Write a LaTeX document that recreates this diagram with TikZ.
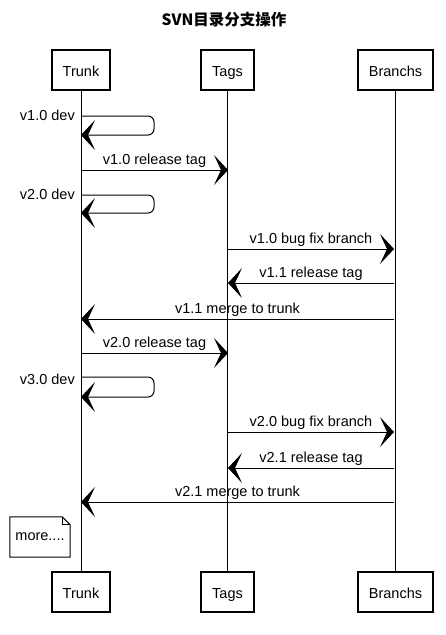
\documentclass[tikz,border=0pt]{standalone}
\usepackage{fontspec}
\setmainfont{Liberation Sans}
\newfontfamily\cjkfont{Noto Sans CJK SC}
\usetikzlibrary{arrows.meta}
\begin{document}
\begin{tikzpicture}[x=1pt,y=-1pt,
  actor/.style={draw, line width=1.1pt, minimum height=40pt, inner sep=0pt, text height=12.4pt, text depth=0pt, font=\fontsize{14.5}{17}\selectfont},
  life/.style={draw, line width=0.7pt},
  msg/.style={draw, line width=1pt, -{Stealth[length=14pt,width=30pt,inset=7pt]}},
  lbl/.style={font=\fontsize{14.5}{17}\selectfont, inner sep=1pt},
  notebox/.style={minimum width=60pt, minimum height=40pt, inner sep=0pt, font=\fontsize{14.5}{17}\selectfont}
]
\useasboundingbox (0,0) rectangle (446,635);
\node[font=\cjkfont\bfseries\fontsize{15.5}{18}\selectfont] (title) at (224,20) {SVN目录分支操作};

% actors
\node[actor, minimum width=58pt] (trunkT) at (81,70) {Trunk};
\node[actor, minimum width=53pt] (tagsT) at (227.5,70) {Tags};
\node[actor, minimum width=75pt] (branchT) at (395.5,70) {Branchs};
\node[actor, minimum width=58pt] (trunkB) at (81,592) {Trunk};
\node[actor, minimum width=53pt] (tagsB) at (227.5,592) {Tags};
\node[actor, minimum width=75pt] (branchB) at (395.5,592) {Branchs};

\draw[life] (trunkT) -- (trunkB);
\draw[life] (tagsT) -- (tagsB);
\draw[life] (branchT) -- (branchB);

% coordinates on lifelines
\foreach \n/\y in {a1/116,a2/135,b/170,c1/195,c2/213,f/319,g/353,h1/377,h2/397,k/502}
  \coordinate (T\n) at (81,\y);
\foreach \n/\y in {b/170,d/249,e/283,g/353,i/432,j/468}
  \coordinate (G\n) at (228,\y);
\foreach \n/\y in {d/249,e/283,f/319,i/432,j/468,k/502}
  \coordinate (B\n) at (394,\y);

% messages
\draw[msg, rounded corners=6pt] (Ta1) -- ++(73,0) -- ++(0,19) -- (Ta2);
\node[lbl, anchor=east] (l1) at (76,115) {v1.0 dev};
\draw[msg] (Tb) -- (Gb) node[lbl, midway, above=1pt] (l2) {v1.0 release tag};
\draw[msg, rounded corners=6pt] (Tc1) -- ++(73,0) -- ++(0,18) -- (Tc2);
\node[lbl, anchor=east] (l3) at (76,194) {v2.0 dev};
\draw[msg] (Gd) -- (Bd) node[lbl, midway, above=1pt] (l4) {v1.0 bug fix branch};
\draw[msg] (Be) -- (Ge) node[lbl, midway, above=1pt] (l5) {v1.1 release tag};
\draw[msg] (Bf) -- (Tf) node[lbl, midway, above=1pt] (l6) {v1.1 merge to trunk};
\draw[msg] (Tg) -- (Gg) node[lbl, midway, above=1pt] (l7) {v2.0 release tag};
\draw[msg, rounded corners=6pt] (Th1) -- ++(73,0) -- ++(0,20) -- (Th2);
\node[lbl, anchor=east] (l8) at (76,379) {v3.0 dev};
\draw[msg] (Gi) -- (Bi) node[lbl, midway, above=1pt] (l9) {v2.0 bug fix branch};
\draw[msg] (Bj) -- (Gj) node[lbl, midway, above=1pt] (l10) {v2.1 release tag};
\draw[msg] (Bk) -- (Tk) node[lbl, midway, above=1pt] (l11) {v2.1 merge to trunk};

% note
\node[notebox] (more) at (40,537) {more....};
\draw[line width=1pt] (more.north west) -- ([xshift=-8pt]more.north east) -- ([yshift=-8pt]more.north east) -- (more.south east) -- (more.south west) -- cycle;
\draw[line width=0.8pt] ([xshift=-8pt]more.north east) -- ([xshift=-8pt,yshift=-8pt]more.north east) -- ([yshift=-8pt]more.north east);
\end{tikzpicture}
\end{document}
